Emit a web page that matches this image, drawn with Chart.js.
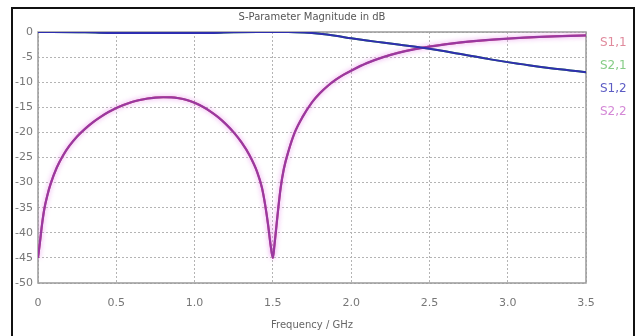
<!DOCTYPE html>
<html>
<head>
<meta charset="utf-8">
<script src="https://cdn.jsdelivr.net/npm/chart.js@4.4.1/dist/chart.umd.min.js"></script>
<style>
    html, body { margin: 0; padding: 0; background: #fff; }
    #sparam { display: block; }
</style>
</head>
<body>
<canvas id="sparam" width="638" height="336"></canvas>
<script>
// Frequency axis (GHz) and magnitude axis (dB) ticks.
var freqTicks = [0, 0.5, 1, 1.5, 2, 2.5, 3, 3.5];
var dbTicks = [0, -5, -10, -15, -20, -25, -30, -35, -40, -45, -50];

// Reflection (S1,1 / S2,2) sampled along frequency.
var reflFreq = [0, 0.012, 0.025, 0.04, 0.06, 0.08, 0.12, 0.16, 0.2, 0.25, 0.3, 0.35, 0.4, 0.45, 0.5, 0.55, 0.6,
    0.65, 0.7, 0.75, 0.8, 0.85, 0.9, 0.95, 1.0, 1.05, 1.1, 1.15, 1.2, 1.25, 1.3, 1.35, 1.4, 1.43, 1.45, 1.47,
    1.485, 1.5, 1.51, 1.52, 1.535, 1.55, 1.57, 1.6, 1.64, 1.69, 1.75, 1.8, 1.85, 1.9, 1.95, 2.0, 2.1, 2.2, 2.3,
    2.4, 2.5, 2.6, 2.7, 2.8, 2.9, 3.0, 3.1, 3.2, 3.3, 3.4, 3.5];
var reflDb = [-45, -42, -38.5, -35.3, -32.5, -30.3, -27.0, -24.6, -22.7, -20.8, -19.3, -18.0, -16.9, -15.95,
    -15.15, -14.5, -13.95, -13.55, -13.25, -13.07, -13.0, -13.02, -13.2, -13.55, -14.1, -14.85, -15.8, -16.95,
    -18.35, -20.0, -22.0, -24.5, -27.9, -31.0, -34.3, -38.5, -42.3, -45, -42.5, -39.5, -35, -31, -27.3, -23.7,
    -20.0, -16.9, -14.0, -12.2, -10.75, -9.55, -8.55, -7.7, -6.2, -5.05, -4.15, -3.45, -2.9, -2.45, -2.08,
    -1.78, -1.53, -1.32, -1.14, -0.99, -0.87, -0.77, -0.69];

// Transmission (S2,1 / S1,2).
var transFreq = [0, 0.3, 0.45, 1.1, 1.25, 1.4, 1.6, 1.7, 1.8, 1.9, 2.0, 2.1, 2.2, 2.3, 2.4, 2.5, 2.6, 2.7, 2.8,
    2.9, 3.0, 3.1, 3.2, 3.3, 3.4, 3.5];
var transDb = [0, -0.05, -0.2, -0.2, -0.05, 0, 0, -0.1, -0.35, -0.75, -1.25, -1.7, -2.1, -2.5, -2.9, -3.35, -3.85,
    -4.4, -4.95, -5.5, -6.0, -6.45, -6.9, -7.3, -7.65, -8.0];

var seriesNames = ['S1,1', 'S2,1', 'S1,2', 'S2,2'];
var legendColors = ['#e08a9c', '#86cc86', '#5c5cc4', '#d488d6'];
var lineColors = ['#d04060', '#40a040', '#2e2eb0', '#9a389f'];
var glowColors = [null, null, null, 'rgba(228, 125, 232, 0.85)'];

function toPoints(xs, ys) {
    return xs.map(function (x, i) {
        return {x: x, y: ys[i]};
    });
}

var fontFamily = '"DejaVu Sans", sans-serif';

/**
 * White page with the black outer frame, plus the plot box.
 */
var framePlugin = {
    id: 'frame',
    beforeDraw: function (chart) {
        var ctx = chart.ctx;
        ctx.save();
        ctx.fillStyle = '#fff';
        ctx.fillRect(0, 0, chart.width, chart.height);
        ctx.strokeStyle = '#111';
        ctx.lineWidth = 2;
        ctx.strokeRect(12, 8, 622, 340);
        ctx.restore();
    },
    beforeDatasetsDraw: function (chart) {
        var a = chart.chartArea;
        var ctx = chart.ctx;
        ctx.save();
        ctx.strokeStyle = '#9a9a9a';
        ctx.lineWidth = 1.5;
        ctx.strokeRect(a.left, a.top, a.right - a.left, a.bottom - a.top);
        ctx.restore();
    },
    // soft halo round the reflection trace
    beforeDatasetDraw: function (chart, args) {
        var glow = glowColors[args.index];
        if (glow) {
            chart.ctx.save();
            chart.ctx.shadowColor = glow;
            chart.ctx.shadowBlur = 5;
        }
    },
    afterDatasetDraw: function (chart, args) {
        if (glowColors[args.index]) {
            chart.ctx.restore();
        }
    }
};

/**
 * Coloured series names to the right of the plot.
 */
var namesPlugin = {
    id: 'seriesNames',
    afterDraw: function (chart) {
        var ctx = chart.ctx;
        var x = chart.chartArea.right + 14;
        ctx.save();
        ctx.font = '12px ' + fontFamily;
        ctx.textBaseline = 'middle';
        ctx.textAlign = 'left';
        seriesNames.forEach(function (name, i) {
            ctx.fillStyle = legendColors[i];
            ctx.fillText(name, x, chart.chartArea.top + 11 + i * 23);
        });
        ctx.restore();
    }
};

function lineSet(i, xs, ys, order, width) {
    return {
        label: seriesNames[i],
        data: toPoints(xs, ys),
        borderColor: lineColors[i],
        backgroundColor: lineColors[i],
        borderWidth: width,
        pointRadius: 0,
        fill: false,
        cubicInterpolationMode: 'monotone',
        order: order
    };
}

var sparamChart = new Chart(document.getElementById('sparam'), {
    type: 'line',
    data: {
        datasets: [
            lineSet(0, reflFreq, reflDb, 2, 2),
            lineSet(1, transFreq, transDb, 2, 2),
            lineSet(2, transFreq, transDb, 1, 2),
            lineSet(3, reflFreq, reflDb, 1, 2.2)
        ]
    },
    plugins: [framePlugin, namesPlugin],
    options: {
        responsive: false,
        animation: false,
        devicePixelRatio: 1,
        layout: {
            padding: {left: 12, right: 52, top: 0, bottom: 0}
        },
        plugins: {
            legend: {display: false},
            tooltip: {enabled: false},
            title: {
                display: true,
                fullSize: false,
                text: 'S-Parameter Magnitude in dB',
                color: '#555',
                font: {family: fontFamily, size: 10, weight: 'normal'},
                padding: {top: 11, bottom: 9}
            }
        },
        scales: {
            x: {
                type: 'linear',
                min: 0,
                max: 3.5,
                afterFit: function (scale) {
                    scale.height = 53;
                },
                afterBuildTicks: function (scale) {
                    scale.ticks = freqTicks.map(function (v) {
                        return {value: v};
                    });
                },
                ticks: {
                    color: '#777',
                    padding: 14,
                    maxRotation: 0,
                    font: {family: fontFamily, size: 11}
                },
                grid: {color: '#b4b4b4', lineWidth: 1, drawTicks: false},
                border: {display: false, dash: [2, 2]},
                title: {
                    display: true,
                    text: 'Frequency / GHz',
                    color: '#666',
                    font: {family: fontFamily, size: 10},
                    padding: {top: 0, bottom: 5}
                }
            },
            y: {
                type: 'linear',
                min: -50,
                max: 0,
                afterFit: function (scale) {
                    scale.width = 26;
                },
                afterBuildTicks: function (scale) {
                    scale.ticks = dbTicks.map(function (v) {
                        return {value: v};
                    });
                },
                ticks: {
                    color: '#777',
                    padding: 5,
                    font: {family: fontFamily, size: 11}
                },
                grid: {color: '#b4b4b4', lineWidth: 1, drawTicks: false},
                border: {display: false, dash: [2, 2]}
            }
        }
    }
});
</script>
</body>
</html>
